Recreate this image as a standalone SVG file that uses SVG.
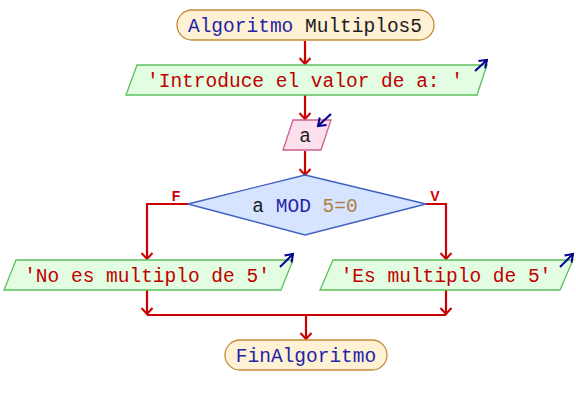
<svg xmlns="http://www.w3.org/2000/svg" width="576" height="405" viewBox="0 0 576 405">
<defs>
<marker id="ar" viewBox="-8 -7 10 14" markerWidth="10" markerHeight="14" refX="0" refY="0" orient="auto" markerUnits="userSpaceOnUse">
<path d="M-6,-5.5 L0,0 L-6,5.5" fill="none" stroke="#cc0000" stroke-width="2"/>
</marker>
<marker id="ab" viewBox="-8 -7 10 14" markerWidth="10" markerHeight="14" refX="0" refY="0" orient="auto" markerUnits="userSpaceOnUse">
<path d="M-7,-5 L0,0 L-7,5" fill="none" stroke="#000090" stroke-width="2"/>
</marker>
</defs>
<style>
text{font-family:"Liberation Mono","Courier New",monospace;font-size:19.5px;}
.term{fill:#fff1d4;stroke:#c48a3a;stroke-width:1.3;}
.out{fill:#e2fde2;stroke:#5cc05c;stroke-width:1.3;}
.inp{fill:#fde0ee;stroke:#cc6090;stroke-width:1.3;}
.dec{fill:#d6e4ff;stroke:#4060c0;stroke-width:1.3;}
.kw{fill:#2424a8;}
.str{fill:#c00000;}
.id{fill:#202020;}
.num{fill:#b08040;}
.lbl{font-family:"Liberation Sans",Arial,sans-serif;font-size:14px;font-weight:bold;fill:#cc0000;}
.ln{fill:none;stroke:#cc0000;stroke-width:2.2;}
.bl{fill:none;stroke:#000090;stroke-width:2;}
</style>
<g id="connectors">
<path class="ln" d="M305,41 V64" marker-end="url(#ar)"/>
<path class="ln" d="M305,95 V119" marker-end="url(#ar)"/>
<path class="ln" d="M305,151 V175" marker-end="url(#ar)"/>
<path class="ln" d="M188,204 H147 V259" marker-end="url(#ar)"/>
<path class="ln" d="M426,204 H446 V259" marker-end="url(#ar)"/>
<path class="ln" d="M147,290 V314" marker-end="url(#ar)"/>
<path class="ln" d="M446,290 V314" marker-end="url(#ar)"/>
<path class="ln" d="M147,315 H446"/>
<path class="ln" d="M306,315 V339" marker-end="url(#ar)"/>
<text class="lbl" x="176" y="201" text-anchor="middle">F</text>
<text class="lbl" x="435" y="201" text-anchor="middle">V</text>
</g>
<g id="start">
<rect class="term" x="177" y="10" width="257" height="30" rx="15"/>
<text x="305" y="32" text-anchor="middle"><tspan class="kw">Algoritmo</tspan><tspan class="id"> Multiplos5</tspan></text>
</g>
<g id="out1">
<polygon class="out" points="137,65 487,65 477,95 126,95"/>
<text class="str" x="305" y="87" text-anchor="middle">'Introduce el valor de a: '</text>
<path class="bl" d="M475,71 L487,60" marker-end="url(#ab)"/>
</g>
<g id="in1">
<polygon class="inp" points="293,120 331,120 321,150 283,150"/>
<text class="id" x="305" y="142" text-anchor="middle">a</text>
<path class="bl" d="M331,114 L318,126" marker-end="url(#ab)"/>
</g>
<g id="cond">
<polygon class="dec" points="305,175 426,204 305,235 188,204"/>
<text x="305" y="212" text-anchor="middle"><tspan class="id">a </tspan><tspan class="kw">MOD</tspan><tspan class="num"> 5=0</tspan></text>
</g>
<g id="outNo">
<polygon class="out" points="16,260 293,260 281,290 4,290"/>
<text class="str" x="147" y="282" text-anchor="middle">'No es multiplo de 5'</text>
<path class="bl" d="M280,267 L293,254" marker-end="url(#ab)"/>
</g>
<g id="outYes">
<polygon class="out" points="333,260 573,260 560,290 320,290"/>
<text class="str" x="446" y="282" text-anchor="middle">'Es multiplo de 5'</text>
<path class="bl" d="M560,267 L573,254" marker-end="url(#ab)"/>
</g>
<g id="end">
<rect class="term" x="225" y="340" width="162" height="30" rx="15"/>
<text class="kw" x="306" y="362" text-anchor="middle">FinAlgoritmo</text>
</g>
</svg>
